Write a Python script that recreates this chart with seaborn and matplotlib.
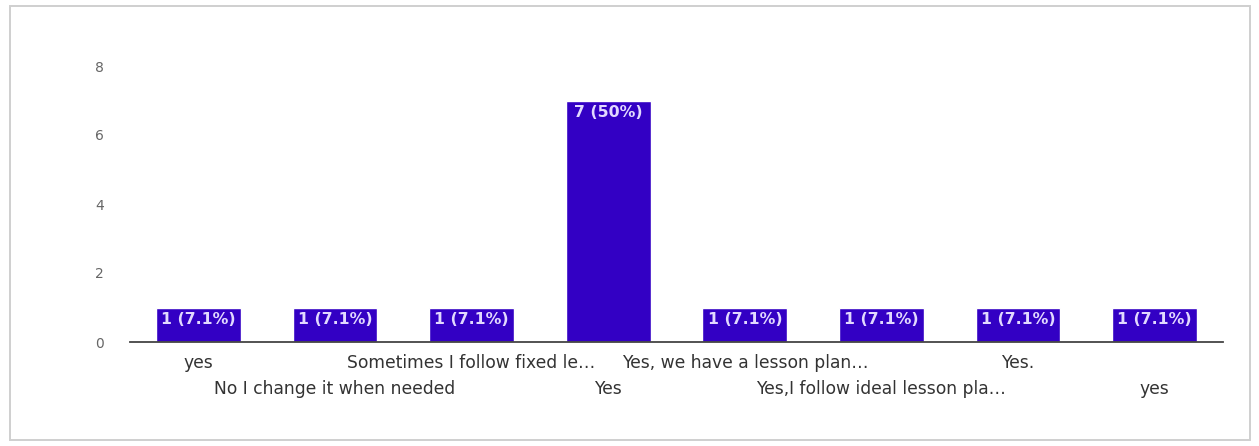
import matplotlib
matplotlib.use("Agg")
import matplotlib.pyplot as plt
import seaborn as sns
import pandas as pd
from matplotlib.patches import Rectangle

# Survey responses (truncated as in the chart) and their counts
answers = [
    "yes",
    "No I change it when needed",
    "Sometimes I follow fixed le…",
    "Yes",
    "Yes, we have a lesson plan…",
    "Yes,I follow ideal lesson pla…",
    "Yes.",
    "yes",
]
counts = [1, 1, 1, 7, 1, 1, 1, 1]
y_ticks = [0, 2, 4, 6, 8]

total = sum(counts)
df = pd.DataFrame({"slot": list(range(len(answers))), "count": counts})

sns.set_theme(style="white")
plt.rcParams["font.family"] = ["DejaVu Sans"]

W, H = 1259, 446
fig = plt.figure(figsize=(W / 100, H / 100), dpi=100)
fig.patch.set_facecolor("white")

# card outline
fig.add_artist(Rectangle((10 / W, 6 / H), 1240 / W, 434 / H, transform=fig.transFigure,
                         facecolor="none", edgecolor="#cfcfcf", linewidth=1.4))

ax = fig.add_axes([130 / W, 104 / H, (1223 - 130) / W, (342 - 66) / H])
bar_color = "#3300c4"
sns.barplot(data=df, x="slot", y="count", color=bar_color, saturation=1,
            width=0.62, ax=ax)

ax.set_xlim(-0.5, len(answers) - 0.5)
ax.set_ylim(0, 8)
ax.set_yticks(y_ticks)
ax.set_yticklabels([str(t) for t in y_ticks], color="#666666", fontsize=10)
ax.tick_params(axis="y", length=0, pad=19)
ax.tick_params(axis="x", length=0)

# staggered category labels on two rows
ax.set_xticks(range(len(answers)))
ax.set_xticklabels(answers, fontsize=12.3, color="#333333")
for i, tick in enumerate(ax.xaxis.get_major_ticks()):
    tick.set_pad(9 if i % 2 == 0 else 27)

ax.set_xlabel("")
ax.set_ylabel("")
for side in ["left", "right", "top"]:
    ax.spines[side].set_visible(False)
ax.spines["bottom"].set_color("#444444")
ax.spines["bottom"].set_linewidth(1.3)

# value labels inside the top of each bar
for i, v in enumerate(counts):
    pct = f"{v / total * 100:.1f}".rstrip("0").rstrip(".")
    ax.annotate(f"{v} ({pct}%)", xy=(i, v), xytext=(0, -3), textcoords="offset points",
                ha="center", va="top", color="#e2d9ff", fontsize=11.3, fontweight="bold")

fig.savefig("out.png", dpi=100, facecolor="white")
